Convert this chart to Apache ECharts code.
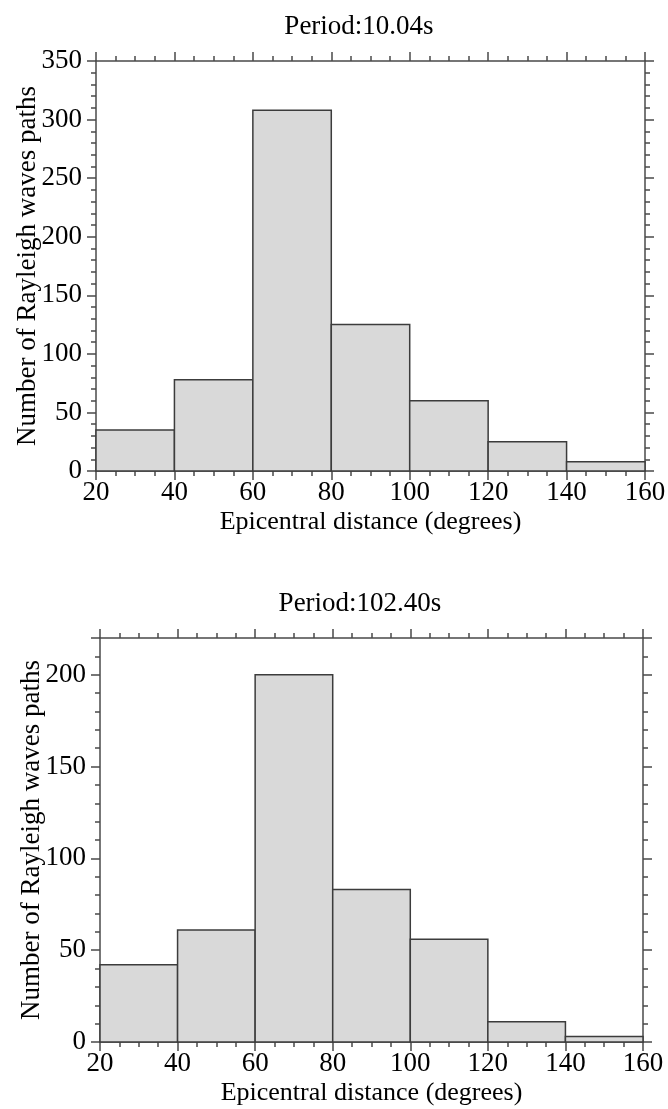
<!DOCTYPE html>
<html>
<head>
<meta charset="utf-8">
<script src="https://cdn.jsdelivr.net/npm/echarts@6/dist/echarts.min.js"></script>
<style>
  html, body { margin: 0; padding: 0; background: #fff; }
  #main { width: 668px; height: 1109px; }
</style>
</head>
<body>
<div id="main"></div>
<script>
// bin edges (degrees) and path counts per bin
var binEdges = [20, 40, 60, 80, 100, 120, 140, 160];
var counts10s = [35, 78, 308, 125, 60, 25, 8];
var counts102s = [42, 61, 200, 83, 56, 11, 3];
var periodTitles = ['Period:10.04s', 'Period:102.40s'];
var yMax = [350, 220];

var FONT = "'Liberation Serif', 'Times New Roman', serif";
var LINE = '#4a4a4a';

var chart = echarts.init(document.getElementById('main'), null, { renderer: 'canvas' });

function binData(counts) {
  var out = [];
  for (var i = 0; i < counts.length; i++) {
    out.push([binEdges[i], binEdges[i + 1], counts[i]]);
  }
  return out;
}

function xAxes(gi) {
  var base = {
    type: 'value', gridIndex: gi, min: 20, max: 160, interval: 20,
    splitLine: { show: false },
    axisLine: { show: true, onZero: false, lineStyle: { color: LINE, width: 1.5 } },
    axisTick: { show: true, length: 9, lineStyle: { color: LINE, width: 1.5 } },
    minorTick: { show: true, splitNumber: 4, length: 5, lineStyle: { color: LINE, width: 1.5 } }
  };
  var bottom = Object.assign({}, base, {
    position: 'bottom',
    axisLabel: { color: '#000', fontFamily: FONT, fontSize: 27, margin: 8 },
    name: 'Epicentral distance (degrees)',
    nameLocation: 'middle',
    nameGap: 38,
    nameMoveOverlap: false,
    nameTextStyle: { color: '#000', fontFamily: FONT, fontSize: 26 }
  });
  var top = Object.assign({}, base, { position: 'top', axisLabel: { show: false } });
  return [bottom, top];
}

function yAxes(gi, max) {
  var fmt = function (v) { return (v % 50 === 0) ? String(v) : ''; };
  var tickStyle = { color: LINE, width: 1.5 };
  // short ticks every 10, labels every 50
  var leftMinor = {
    type: 'value', gridIndex: gi, position: 'left', min: 0, max: max, interval: 10,
    splitLine: { show: false },
    axisLine: { show: true, onZero: false, lineStyle: { color: LINE, width: 1.5 } },
    axisTick: { show: true, length: 5, lineStyle: tickStyle },
    axisLabel: { color: '#000', fontFamily: FONT, fontSize: 27, margin: 14, formatter: fmt },
    name: 'Number of Rayleigh waves paths',
    nameLocation: 'middle',
    nameGap: 55,
    nameRotate: 90,
    nameMoveOverlap: false,
    nameTextStyle: { color: '#000', fontFamily: FONT, fontSize: 27 }
  };
  var leftMajor = {
    type: 'value', gridIndex: gi, position: 'left', min: 0, max: max, interval: 50,
    splitLine: { show: false },
    axisLine: { show: false },
    axisTick: { show: true, length: 9, lineStyle: tickStyle },
    axisLabel: { show: false }
  };
  var rightMinor = Object.assign({}, leftMinor, {
    position: 'right', name: '', axisLabel: { show: false }
  });
  var rightMajor = Object.assign({}, leftMajor, { position: 'right' });
  return [leftMinor, leftMajor, rightMinor, rightMajor];
}

function renderBin(params, api) {
  var p0 = api.coord([api.value(0), 0]);
  var p1 = api.coord([api.value(1), api.value(2)]);
  return {
    type: 'rect',
    shape: { x: p0[0], y: p1[1], width: p1[0] - p0[0], height: p0[1] - p1[1] },
    style: { fill: '#d9d9d9', stroke: '#3c3c3c', lineWidth: 1.5 }
  };
}

var option = {
  backgroundColor: '#fff',
  animation: false,
  title: [
    { text: periodTitles[0], left: 354, top: 8, textAlign: 'center',
      textStyle: { color: '#000', fontFamily: FONT, fontSize: 27, fontWeight: 'normal' } },
    { text: periodTitles[1], left: 355, top: 585, textAlign: 'center',
      textStyle: { color: '#000', fontFamily: FONT, fontSize: 27, fontWeight: 'normal' } }
  ],
  grid: [
    { left: 96, right: 23, top: 61, height: 410, outerBoundsMode: 'none', containLabel: false },
    { left: 100, right: 25, top: 638, height: 404, outerBoundsMode: 'none', containLabel: false }
  ],
  xAxis: xAxes(0).concat(xAxes(1)),
  yAxis: yAxes(0, yMax[0]).concat(yAxes(1, yMax[1])),
  series: [
    {
      type: 'custom', xAxisIndex: 0, yAxisIndex: 0,
      renderItem: renderBin,
      encode: { x: [0, 1], y: 2 },
      data: binData(counts10s)
    },
    {
      type: 'custom', xAxisIndex: 2, yAxisIndex: 4,
      renderItem: renderBin,
      encode: { x: [0, 1], y: 2 },
      data: binData(counts102s)
    }
  ]
};

chart.setOption(option);
</script>
</body>
</html>
